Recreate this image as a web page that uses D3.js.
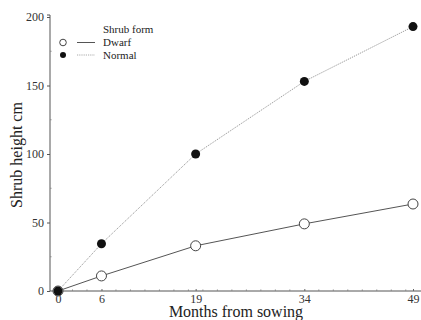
<!DOCTYPE html>
<html>
<head>
<meta charset="utf-8">
<script src="https://cdn.jsdelivr.net/npm/d3@7"></script>
<style>
  body { margin: 0; background: #fff; }
  svg { display: block; font-family: "Liberation Serif", "Times New Roman", "DejaVu Serif", serif; }
</style>
</head>
<body>
<div id="chart"></div>
<script>
const months = [0, 6, 19, 34, 49];
const dwarfHeights = [0, 11, 33, 49, 63.5];
const normalHeights = [0, 34.5, 100, 153, 193];
const yTicks = [0, 50, 100, 150, 200];
const seriesNames = ["Dwarf", "Normal"];

const width = 421;
const height = 320;
const margin = { top: 17, right: 8, bottom: 29, left: 50 };
const serif = "'Liberation Serif', 'Times New Roman', 'DejaVu Serif', serif";

const x = d3.scaleLinear().domain([0, 49]).range([58, 413]);
const y = d3.scaleLinear().domain([0, 200]).range([height - margin.bottom, margin.top]);

const svg = d3.select("#chart").append("svg")
  .attr("width", width)
  .attr("height", height);

// y axis
const yAxis = svg.append("g")
  .attr("transform", `translate(${margin.left},0)`)
  .call(d3.axisLeft(y).tickValues(yTicks).tickSize(3).tickPadding(3));
yAxis.attr("font-family", serif);
yAxis.select(".domain").attr("stroke", "#555").attr("d", `M-3,${y(200) - 2}H0V${y(0)}`);
yAxis.selectAll(".tick line").attr("stroke", "#555");
yAxis.selectAll(".tick text").attr("font-size", 12).attr("fill", "#333");

yAxis.selectAll(".minor")
  .data([25, 75, 125, 175])
  .join("line")
  .attr("class", "minor")
  .attr("x1", 0)
  .attr("x2", 1.5)
  .attr("y1", (v) => y(v))
  .attr("y2", (v) => y(v))
  .attr("stroke", "#888");

// x axis
const xAxis = svg.append("g")
  .attr("transform", `translate(0,${y(0)})`)
  .call(d3.axisBottom(x).tickValues(months).tickSize(-2).tickPadding(3));
xAxis.attr("font-family", serif);
xAxis.select(".domain").attr("stroke", "#555").attr("d", `M${margin.left},0H${width}`);
xAxis.selectAll(".tick line").attr("stroke", "#666");
xAxis.selectAll(".tick text").attr("font-size", 12).attr("fill", "#333");

// minor ticks every 2 months
xAxis.selectAll(".minor")
  .data(d3.range(2, 50, 2).filter((m) => !months.includes(m)))
  .join("line")
  .attr("class", "minor")
  .attr("x1", (m) => x(m))
  .attr("x2", (m) => x(m))
  .attr("y1", 0)
  .attr("y2", -1.5)
  .attr("stroke", "#888");

svg.append("text")
  .attr("x", 236)
  .attr("y", 317)
  .attr("text-anchor", "middle")
  .attr("font-family", serif)
  .attr("font-size", 16)
  .attr("fill", "#222")
  .text("Months from sowing");

svg.append("text")
  .attr("transform", `translate(22,155) rotate(-90)`)
  .attr("text-anchor", "middle")
  .attr("font-family", serif)
  .attr("font-size", 16)
  .attr("fill", "#222")
  .text("Shrub height cm");

const dwarf = months.map((m, i) => ({ m, v: dwarfHeights[i] }));
const normal = months.map((m, i) => ({ m, v: normalHeights[i] }));
const line = d3.line().x((d) => x(d.m)).y((d) => y(d.v));

svg.append("path")
  .datum(normal)
  .attr("fill", "none")
  .attr("stroke", "#999")
  .attr("stroke-width", 1)
  .attr("stroke-dasharray", "1.2,1")
  .attr("d", line);

svg.append("path")
  .datum(dwarf)
  .attr("fill", "none")
  .attr("stroke", "#555")
  .attr("stroke-width", 1)
  .attr("d", line);

svg.append("g").selectAll("circle")
  .data(dwarf)
  .join("circle")
  .attr("cx", (d) => x(d.m))
  .attr("cy", (d) => y(d.v))
  .attr("r", 5)
  .attr("fill", "#fff")
  .attr("stroke", "#444")
  .attr("stroke-width", 1);

svg.append("g").selectAll("circle")
  .data(normal)
  .join("circle")
  .attr("cx", (d) => x(d.m))
  .attr("cy", (d) => y(d.v))
  .attr("r", 4.5)
  .attr("fill", "#111");

// legend
const legend = svg.append("g").attr("font-family", serif);
legend.append("text")
  .attr("x", 103)
  .attr("y", 33)
  .attr("font-size", 11)
  .attr("fill", "#222")
  .text("Shrub form");

const legendRows = legend.selectAll(".row")
  .data(seriesNames)
  .join("g")
  .attr("class", "row")
  .attr("transform", (d, i) => `translate(0,${42.5 + i * 12.5})`);

legendRows.append("circle")
  .attr("cx", 63)
  .attr("cy", 0)
  .attr("r", (d) => (d === "Dwarf" ? 3.3 : 3))
  .attr("fill", (d) => (d === "Dwarf" ? "#fff" : "#111"))
  .attr("stroke", (d) => (d === "Dwarf" ? "#444" : "none"));

legendRows.append("line")
  .attr("x1", 77)
  .attr("x2", 95)
  .attr("stroke", (d) => (d === "Dwarf" ? "#555" : "#aaa"))
  .attr("stroke-dasharray", (d) => (d === "Dwarf" ? null : "1.2,1"));

legendRows.append("text")
  .attr("x", 103)
  .attr("y", 3.5)
  .attr("font-size", 11)
  .attr("fill", "#222")
  .text((d) => d);
</script>
</body>
</html>
